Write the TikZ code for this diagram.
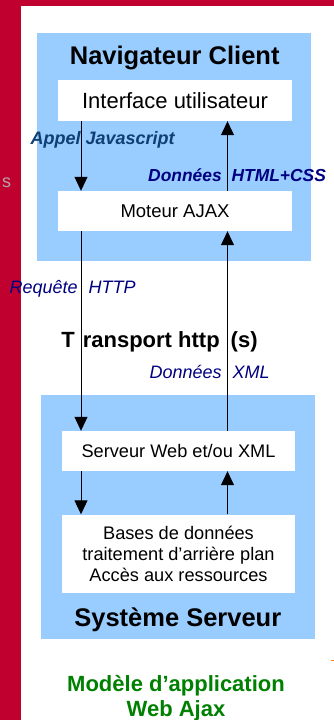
\documentclass[tikz,border=0pt]{standalone}
\usepackage{fontspec}
\setmainfont{Liberation Sans}
\usetikzlibrary{arrows.meta}
\definecolor{bordeaux}{HTML}{C0002F}
\definecolor{cielbleu}{HTML}{99CCFF}
\definecolor{encre}{HTML}{0F3F73}
\definecolor{marine}{HTML}{000080}
\definecolor{vertmodele}{HTML}{008000}
\definecolor{cendre}{HTML}{B4A6AA}
\begin{document}
\begin{tikzpicture}[x=1pt, y=-1pt,
		zone/.style={fill=cielbleu},
		boite/.style={fill=white, inner sep=0pt, minimum width=234pt, align=center, font=\fontsize{18.2}{21}\selectfont},
		titre/.style={anchor=base, font=\fontsize{25.5}{30}\bfseries\selectfont},
		etiquette/.style={anchor=base west, text=marine, font=\fontsize{18}{21}\itshape\selectfont},
		fleche/.style={-{Triangle[length=14pt, width=13pt]}, line width=1pt}]
		\useasboundingbox (0,0) rectangle (334,720);
		\fill[bordeaux] (0,0) rectangle (21,720);
		\fill[bordeaux] (0,0) rectangle (334,6);
		\node[anchor=base west, inner sep=0pt, text=cendre, font=\fontsize{18}{21}\selectfont] (reste) at (2,187) {s};
		\draw[orange, line width=1pt] (331,660) -- (334,660);
		\fill[zone] (37,33) rectangle (311,261);
		\fill[zone] (41,395) rectangle (315,639);
		\node[titre] (client) at (174.7,64) {Navigateur Client};
		\node[boite, minimum height=41pt, font=\fontsize{22}{26}\selectfont] (iface) at (175,100.5) {Interface utilisateur};
		\node[boite, minimum height=40pt, font=\fontsize{18.5}{22}\selectfont] (moteur) at (175,211) {Moteur AJAX};
		\node[boite, minimum width=233pt, minimum height=40pt] (serveur) at (178.5,451) {Serveur Web et/ou XML};
		\node[boite, minimum width=233pt, minimum height=78pt] (bases) at (178.5,553.5) {Bases de données\\traitement d'arrière plan\\Accès aux ressources};
		\node[titre] (systeme) at (177.8,626) {Système Serveur};
		\node[anchor=base, font=\fontsize{22}{26}\bfseries\selectfont] (transport) at (159.5,347) {T\hspace{8pt}ransport http\hspace{11pt}(s)};
		\node[etiquette, text=encre, font=\fontsize{18}{21}\bfseries\itshape\selectfont] (appel) at (27,144) {Appel Javascript};
		\node[etiquette, inner xsep=0pt, font=\fontsize{17.4}{21}\bfseries\itshape\selectfont] (html) at (148,181) {Données\hspace{10pt}HTML+CSS};
		\node[etiquette] (requete) at (6,293) {Requête\hspace{11pt}HTTP};
		\node[etiquette] (xml) at (146,378) {Données\hspace{11pt}XML};
		\node[text=vertmodele, align=center, font=\fontsize{22}{25}\bfseries\selectfont] (modele) at (176,698.5) {Modèle d'application\\Web Ajax};
		\coordinate (gauche) at (81,0);
		\coordinate (droite) at (227.5,0);
		\draw[fleche] (iface.south -| gauche) -- (moteur.north -| gauche);
		\draw[fleche] (moteur.south -| gauche) -- (serveur.north -| gauche);
		\draw[fleche] (serveur.south -| gauche) -- (bases.north -| gauche);
		\draw[fleche] (moteur.north -| droite) -- (iface.south -| droite);
		\draw[fleche] (serveur.north -| droite) -- (moteur.south -| droite);
		\draw[fleche] (bases.north -| droite) -- (serveur.south -| droite);
	\end{tikzpicture}
\end{document}
